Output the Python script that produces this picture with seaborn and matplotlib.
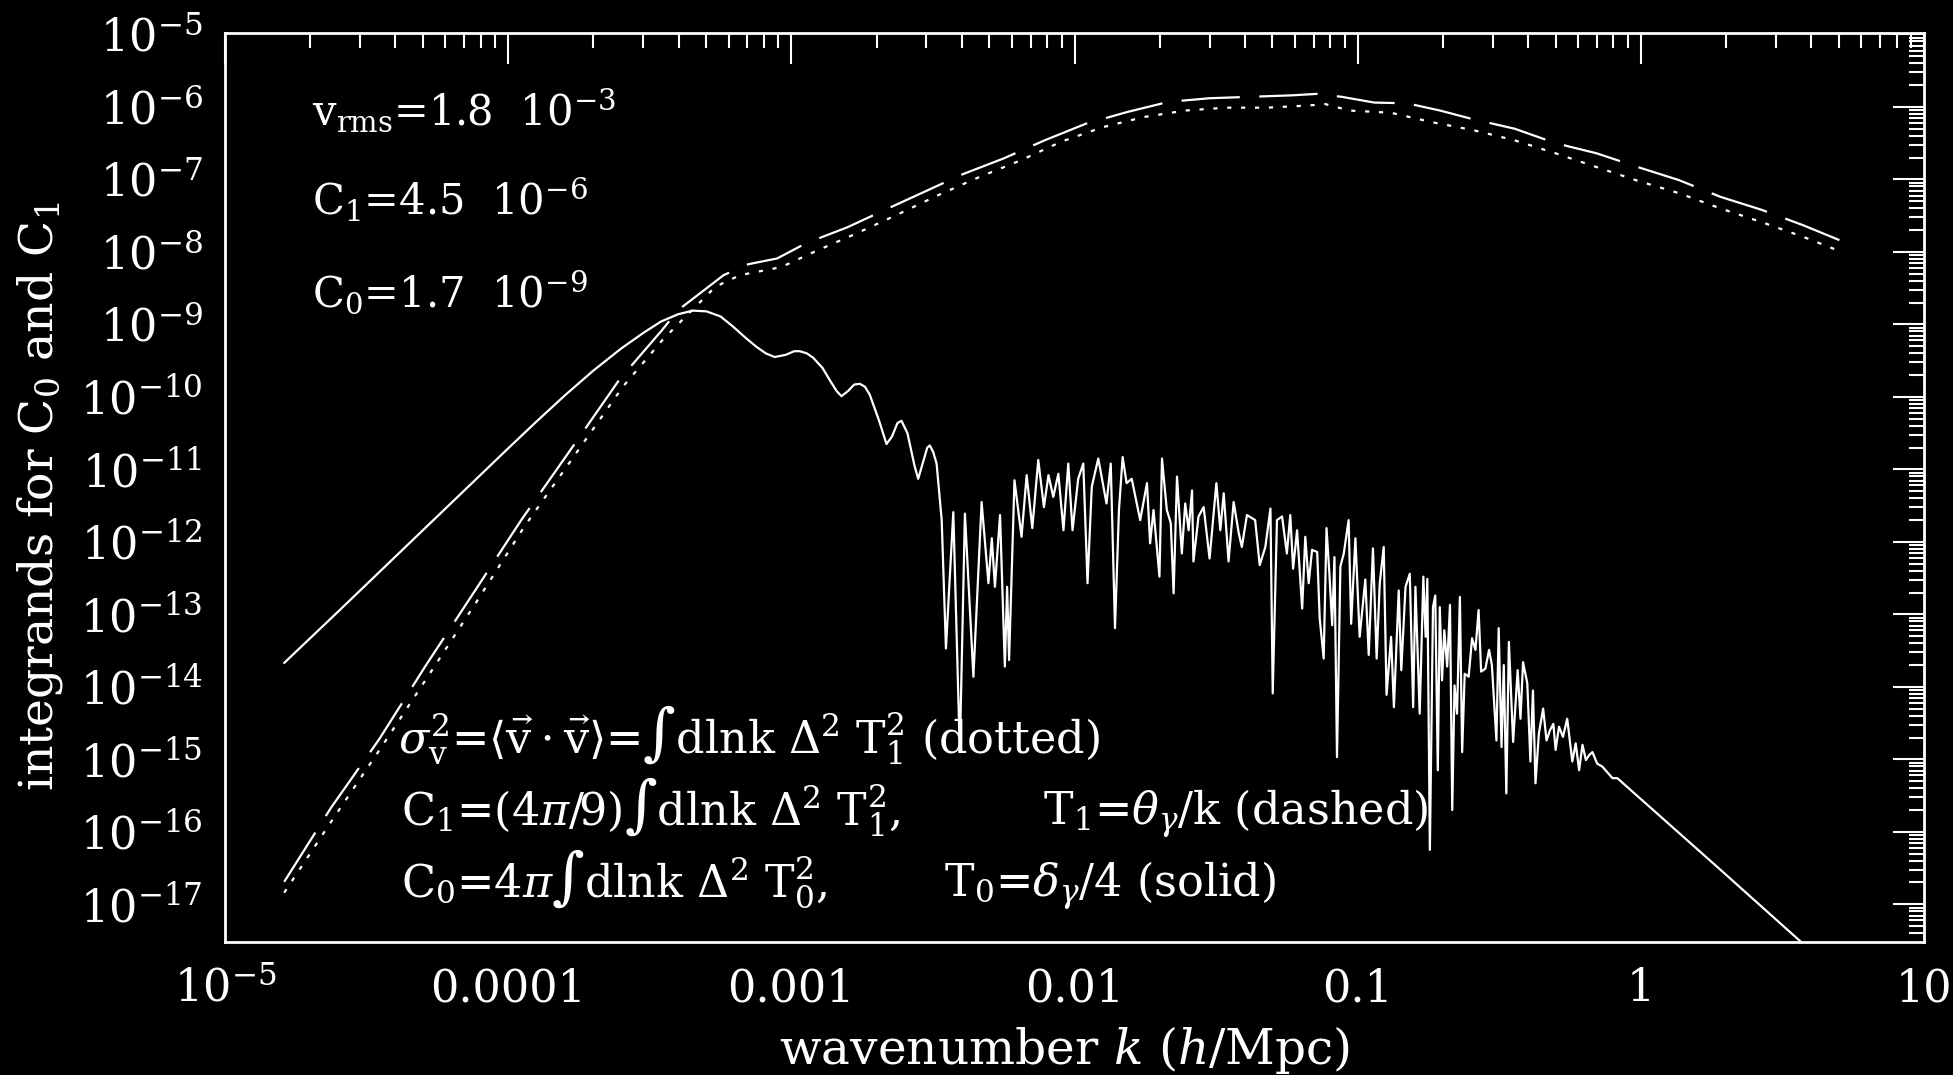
import numpy as np
import pandas as pd
import matplotlib
matplotlib.use("Agg")
import matplotlib.pyplot as plt
import seaborn as sns
from matplotlib.ticker import LogLocator, FixedLocator, FixedFormatter, NullFormatter, LogFormatterMathtext

# ---------------- data (log10 values) ----------------
# solid curve: integrand for C0 (T0 = delta_gamma/4)
solid_log10k = [
    -4.791, -4.600, -4.400, -4.200, -4.000, -3.900, -3.800, -3.700, -3.600, -3.520,
    -3.460, -3.400, -3.348, -3.300, -3.250, -3.206, -3.160, -3.123, -3.090, -3.059,
    -3.020, -2.990, -2.970, -2.945, -2.923, -2.890, -2.864, -2.840, -2.823, -2.800,
    -2.778, -2.758, -2.740, -2.723, -2.690, -2.664, -2.645, -2.625, -2.611, -2.590,
    -2.565, -2.552, -2.535, -2.520, -2.511, -2.499, -2.487, -2.469,
    -2.454, -2.428, -2.405, -2.387, -2.357,
    -2.328, -2.304, -2.292, -2.281, -2.263, -2.246, -2.238, -2.231, -2.212, -2.187,
    -2.169, -2.149, -2.128, -2.108, -2.092, -2.075, -2.057, -2.039, -2.022, -2.007,
    -1.987, -1.969, -1.954, -1.939, -1.916, -1.887, -1.872, -1.857, -1.843, -1.830,
    -1.816, -1.798, -1.768, -1.744, -1.733, -1.721, -1.700, -1.691, -1.674, -1.660,
    -1.650, -1.638, -1.621, -1.609, -1.597, -1.585, -1.580, -1.562, -1.544, -1.523,
    -1.499, -1.485, -1.473, -1.456, -1.438, -1.420, -1.409, -1.391, -1.362, -1.346,
    -1.326, -1.308, -1.300, -1.285, -1.267, -1.250, -1.238, -1.228, -1.214, -1.196,
    -1.185, -1.173, -1.161, -1.143, -1.134, -1.120, -1.110, -1.100, -1.090, -1.082,
    -1.073, -1.061, -1.049, -1.032, -1.023, -1.008, -0.993, -0.973, -0.961, -0.946,
    -0.933, -0.922, -0.908, -0.898, -0.882, -0.872, -0.855, -0.846, -0.831, -0.816,
    -0.804, -0.796, -0.781, -0.768, -0.760, -0.754, -0.745, -0.734, -0.726, -0.717,
    -0.710, -0.702, -0.694, -0.684, -0.674, -0.666, -0.658, -0.649, -0.639, -0.631,
    -0.622, -0.608, -0.596, -0.584, -0.573, -0.564, -0.549, -0.536, -0.526, -0.510,
    -0.502, -0.492, -0.484, -0.475, -0.466, -0.451, -0.435, -0.425, -0.416, -0.401,
    -0.390, -0.381, -0.372, -0.360, -0.345, -0.333, -0.321, -0.309, -0.301, -0.289,
    -0.275, -0.260, -0.242, -0.230, -0.218, -0.206, -0.194, -0.182, -0.171, -0.154,
    -0.136, -0.100, -0.083, 0.283, 0.566, 0.700,
]
solid_log10y = [
    -13.67, -12.96, -12.21, -11.46, -10.71, -10.34, -9.98, -9.64, -9.33, -9.11,
    -8.96, -8.86, -8.81, -8.82, -8.89, -9.03, -9.19, -9.31, -9.40, -9.45,
    -9.42, -9.37, -9.37, -9.40, -9.46, -9.60, -9.77, -9.92, -9.99, -9.92,
    -9.83, -9.82, -9.86, -9.97, -10.33, -10.65, -10.55, -10.36, -10.33, -10.50,
    -10.95, -11.13, -10.90, -10.70, -10.67, -10.76, -10.92, -11.70,
    -13.47, -11.59, -14.90, -11.61, -13.86,
    -11.45, -12.57, -11.95, -12.62, -11.63, -13.72, -12.62, -13.63, -11.15, -11.93,
    -11.08, -11.81, -10.87, -11.52, -11.08, -11.38, -11.06, -11.84, -10.92, -11.84,
    -11.13, -10.92, -12.57, -11.24, -10.85, -11.47, -10.92, -13.19, -11.56, -10.83,
    -11.19, -11.13, -11.70, -11.19, -12.02, -11.56, -12.48, -10.85, -11.56, -11.74,
    -12.71, -11.10, -12.16, -11.47, -11.84, -11.29, -12.27, -11.65, -11.52, -12.23,
    -11.19, -11.84, -11.33, -12.27, -11.45, -11.88, -12.07, -11.63, -11.70, -12.32,
    -12.07, -11.54, -14.09, -11.70, -11.65, -12.16, -11.63, -12.37, -11.84, -12.92,
    -11.93, -12.57, -12.11, -12.14, -13.06, -13.61, -11.81, -12.43, -13.15, -12.21,
    -14.97, -12.34, -12.16, -11.70, -13.13, -11.95, -13.31, -12.52, -13.56, -12.09,
    -13.61, -12.57, -12.07, -14.11, -13.31, -14.28, -12.67, -13.77, -12.62, -12.44,
    -14.28, -12.62, -14.37, -12.48, -13.31, -12.51, -16.25, -12.90, -12.74, -15.15,
    -12.90, -13.91, -13.22, -13.72, -12.87, -15.70, -13.98, -14.37, -12.76, -14.90,
    -13.82, -13.86, -13.33, -13.49, -12.94, -13.79, -13.75, -13.49, -13.70, -14.74,
    -13.19, -14.83, -13.70, -15.47, -13.38, -14.76, -13.77, -14.44, -13.66, -13.95,
    -15.03, -14.05, -15.33, -14.64, -14.30, -14.74, -14.60, -14.51, -14.87, -14.55,
    -14.69, -14.44, -15.03, -14.78, -15.15, -14.80, -15.01, -14.94, -14.90, -15.06,
    -15.10, -15.26, -15.26, -16.53, -17.52, -18.05,
]

# dashed curve: integrand for C1 (T1 = theta_gamma/k)
dashed_log10k = [
    -4.791, -4.626, -4.455, -4.290, -4.125, -3.954, -3.778, -3.607, -3.459, -3.399,
    -3.239, -3.152, -3.050, -2.948, -2.802, -2.686, -2.541, -2.396, -2.250, -2.105,
    -1.959, -1.814, -1.668, -1.523, -1.378, -1.232, -1.145, -1.057, -0.941, -0.825,
    -0.709, -0.592, -0.446, -0.301, -0.156, -0.010, 0.135, 0.281, 0.427, 0.572, 0.703,
]
dashed_log10y = [
    -16.69, -15.67, -14.72, -13.70, -12.72, -11.70, -10.72, -9.76, -9.09, -8.80,
    -8.32, -8.17, -8.09, -7.88, -7.66, -7.45, -7.19, -6.93, -6.71, -6.46,
    -6.23, -6.07, -5.93, -5.88, -5.86, -5.84, -5.82, -5.86, -5.94, -5.95,
    -6.05, -6.17, -6.30, -6.50, -6.64, -6.83, -7.01, -7.24, -7.42, -7.63, -7.84,
]

# dotted curve: integrand for sigma_v^2
dotted_log10k = [
    -4.791, -4.620, -4.444, -4.279, -4.114, -3.943, -3.766, -3.595, -3.454, -3.360,
    -3.268, -3.181, -3.036, -2.920, -2.773, -2.628, -2.483, -2.338, -2.192, -2.047,
    -1.901, -1.756, -1.610, -1.465, -1.319, -1.174, -1.115, -1.028, -0.883, -0.738,
    -0.592, -0.446, -0.301, -0.156, -0.010, 0.135, 0.281, 0.427, 0.572, 0.703,
]
dotted_log10y = [
    -16.84, -15.83, -14.81, -13.83, -12.84, -11.79, -10.81, -9.86, -9.21, -8.84,
    -8.48, -8.32, -8.21, -8.00, -7.75, -7.49, -7.22, -6.97, -6.74, -6.48,
    -6.28, -6.14, -6.05, -6.01, -6.01, -5.98, -5.96, -6.05, -6.08, -6.21,
    -6.32, -6.46, -6.64, -6.83, -7.02, -7.19, -7.40, -7.59, -7.79, -7.99,
]

xtick_values = [1e-5, 1e-4, 1e-3, 1e-2, 1e-1, 1, 10]
xtick_labels = [r"$10^{-5}$", "0.0001", "0.001", "0.01", "0.1", "1", "10"]

# ---------------- style ----------------
sns.set_theme(style="dark")
plt.rcParams.update({
    "font.family": ["DejaVu Serif"],
    "mathtext.fontset": "dejavuserif",
    "figure.facecolor": "black",
    "axes.facecolor": "black",
    "axes.edgecolor": "white",
    "axes.linewidth": 2.0,
    "text.color": "white",
    "axes.labelcolor": "white",
    "xtick.color": "white",
    "ytick.color": "white",
    "lines.scale_dashes": False,
    "axes.grid": False,
})

TICK_FS = 32
ANN_FS = 30
LINE_FS = 32

fig = plt.figure(figsize=(19.53, 10.75), dpi=100, facecolor="black")
ax = fig.add_axes([225 / 1953, 1 - 942 / 1075, 1699 / 1953, 909 / 1075])
ax.set_facecolor("black")
ax.set_xscale("log")
ax.set_yscale("log")
ax.grid(False)

df_solid = pd.DataFrame({"k": 10 ** np.array(solid_log10k), "v": 10 ** np.array(solid_log10y)})
df_dashed = pd.DataFrame({"k": 10 ** np.array(dashed_log10k), "v": 10 ** np.array(dashed_log10y)})
df_dotted = pd.DataFrame({"k": 10 ** np.array(dotted_log10k), "v": 10 ** np.array(dotted_log10y)})

sns.lineplot(data=df_solid, x="k", y="v", ax=ax, color="white", lw=1.6,
             estimator=None, sort=False, legend=False)
sns.lineplot(data=df_dashed, x="k", y="v", ax=ax, color="white", lw=1.6,
             estimator=None, sort=False, legend=False, linestyle=(0, (42, 14)))
sns.lineplot(data=df_dotted, x="k", y="v", ax=ax, color="white", lw=1.6,
             estimator=None, sort=False, legend=False, linestyle=(0, (3, 7)))

ax.set_xlim(1e-5, 10)
ax.set_ylim(10 ** -17.52, 10 ** -4.98)
ax.set_xlabel("")
ax.set_ylabel("")

ax.xaxis.set_major_locator(FixedLocator(xtick_values))
ax.xaxis.set_major_formatter(FixedFormatter(xtick_labels))
ax.xaxis.set_minor_locator(LogLocator(base=10, subs=np.arange(2, 10), numticks=100))
ax.xaxis.set_minor_formatter(NullFormatter())
ax.yaxis.set_major_locator(LogLocator(base=10, numticks=100))
ax.yaxis.set_major_formatter(LogFormatterMathtext())
ax.yaxis.set_minor_locator(LogLocator(base=10, subs=np.arange(2, 10), numticks=200))
ax.yaxis.set_minor_formatter(NullFormatter())

ax.tick_params(which="major", direction="in", length=22, width=1.5, top=True, right=True,
               labelsize=TICK_FS, colors="white")
ax.tick_params(which="minor", direction="in", length=11, width=1.5, top=True, right=True,
               colors="white")
ax.tick_params(axis="y", which="major", pad=16)
ax.tick_params(axis="x", which="major", pad=18)
for s in ax.spines.values():
    s.set_color("white")
    s.set_linewidth(2.0)

# axis titles
fig.text(1065 / 1953, 1 - 1050 / 1075, r"wavenumber $k$ ($h$/Mpc)", ha="center", va="center",
         fontsize=35, color="white")
fig.text(40 / 1953, 1 - 496 / 1075, r"integrands for C$_0$ and C$_1$", ha="center", va="center",
         rotation=90, fontsize=34, color="white")

# annotations
def ftext(px, py, s, fs):
    fig.text(px / 1953, 1 - py / 1075, s, ha="left", va="baseline", fontsize=fs, color="white")

ftext(312, 125, r"v$_{\rm rms}$=1.8  10$^{-3}$", ANN_FS)
ftext(312, 215, r"C$_1$=4.5  10$^{-6}$", ANN_FS)
ftext(312, 307, r"C$_0$=1.7  10$^{-9}$", ANN_FS)

ftext(398, 753, r"$\sigma_{\rm v}^2$=$\langle\vec{\rm v}\cdot\vec{\rm v}\rangle$=$\int$dlnk $\Delta^2$ T$_1^2$ (dotted)", LINE_FS)
ftext(401, 825, r"C$_1$=(4$\pi$/9)$\int$dlnk $\Delta^2$ T$_1^2$,", LINE_FS)
ftext(1043, 825, r"T$_1$=$\theta_\gamma$/k (dashed)", LINE_FS)
ftext(401, 897, r"C$_0$=4$\pi\int$dlnk $\Delta^2$ T$_0^2$,", LINE_FS)
ftext(944, 897, r"T$_0$=$\delta_\gamma$/4 (solid)", LINE_FS)

fig.savefig("out.png", dpi=100, facecolor="black")
